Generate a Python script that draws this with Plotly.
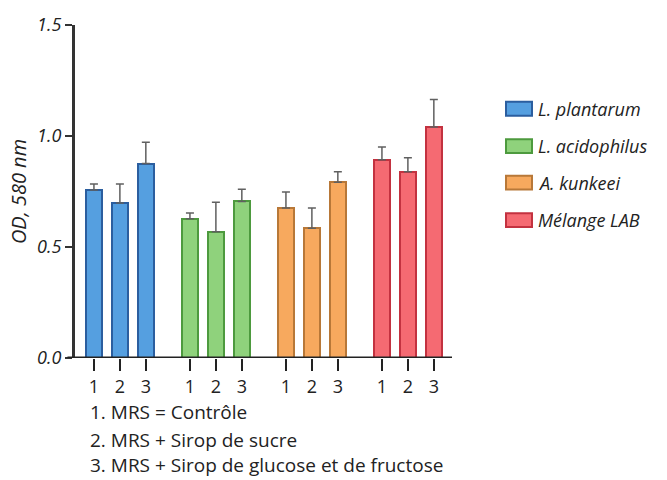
import plotly.graph_objects as go

series = ["L. plantarum", "L. acidophilus", "A. kunkeei", "Mélange LAB"]
conditions = ["1", "2", "3"]
values = {
    "L. plantarum": [0.757, 0.698, 0.876],
    "L. acidophilus": [0.627, 0.569, 0.705],
    "A. kunkeei": [0.676, 0.584, 0.792],
    "Mélange LAB": [0.893, 0.839, 1.041],
}
errors = {
    "L. plantarum": [0.027, 0.086, 0.096],
    "L. acidophilus": [0.026, 0.133, 0.055],
    "A. kunkeei": [0.072, 0.092, 0.047],
    "Mélange LAB": [0.057, 0.063, 0.123],
}
fills = ["#559fe0", "#8fd27c", "#f7a95e", "#f56a72"]
borders = ["#2b5e9f", "#4d9a3e", "#b87838", "#c33240"]
legend_lines = ["1. MRS = Contrôle", "2. MRS + Sirop de sucre",
                "3. MRS + Sirop de glucose et de fructose"]
y_ticks = [0.0, 0.5, 1.0, 1.5]
y_ticklabels = ["0.0", "0.5", "1.0", "1.5"]

GROUP_STEP = 3.7
FONT = "Open Sans"
TXT = "#222222"

fig = go.Figure()
tickvals, ticktext = [], []
for g, name in enumerate(series):
    xs = [g * GROUP_STEP + i for i in range(len(conditions))]
    tickvals += xs
    ticktext += conditions
    fig.add_trace(go.Bar(
        x=xs, y=values[name], name=name, width=0.62, showlegend=False,
        marker=dict(color=fills[g], line=dict(color=borders[g], width=2)),
        error_y=dict(type="data", array=errors[name], arrayminus=[0] * 3,
                     symmetric=False, color="#606060", thickness=1.5, width=4),
    ))

fig.update_layout(
    width=667, height=480,
    margin=dict(l=75, r=215, t=20, b=122),
    plot_bgcolor="white", paper_bgcolor="white",
    font=dict(family=FONT, size=17, color=TXT),
    bargap=0,
    showlegend=False,
    xaxis=dict(range=[-0.73, 3 * GROUP_STEP + 2.7], tickvals=tickvals,
               ticktext=ticktext, ticks="outside", ticklen=12, tickwidth=2,
               tickcolor=TXT, showgrid=False, zeroline=False,
               showline=False, tickfont=dict(size=18, color=TXT), fixedrange=True),
    yaxis=dict(range=[0, 1.5], tickvals=y_ticks, ticktext=y_ticklabels,
               ticks="outside", ticklen=7, tickwidth=2, tickcolor="#333333",
               showgrid=False, zeroline=False, showline=True,
               linecolor="#333333", linewidth=3,
               tickfont=dict(size=18, style="italic", color=TXT),
               title=dict(text="OD, 580 nm", font=dict(size=20, style="italic"),
                          standoff=6)),
)
# baseline of the x axis, slightly extending left of the y axis
fig.add_shape(type="line", xref="paper", yref="y", x0=-0.02, x1=1, y0=0, y1=0,
              line=dict(color=TXT, width=3))

# manual legend (swatch + italic label)
PLOT_L, PLOT_W, PLOT_T, PLOT_H = 75, 377, 20, 338
def px(xp):
    return (xp - PLOT_L) / PLOT_W
def py(yp):
    return (PLOT_T + PLOT_H - yp) / PLOT_H

legend_y = [105, 143, 180, 218]
for g, name in enumerate(series):
    yc = legend_y[g]
    fig.add_shape(type="rect", xref="paper", yref="paper",
                  x0=px(506), x1=px(532), y0=py(yc + 7), y1=py(yc - 7),
                  fillcolor=fills[g], line=dict(color=borders[g], width=2))
    fig.add_annotation(text="<i>" + name + "</i>", xref="paper", yref="paper",
                       x=px(536), y=py(yc), xanchor="left", yanchor="middle",
                       showarrow=False, font=dict(family=FONT, size=18, color=TXT))

note_y = [413, 441, 467]
for k, txt in enumerate(legend_lines):
    fig.add_annotation(text=txt, xref="paper", yref="paper",
                       x=px(88), y=py(note_y[k]), xanchor="left", yanchor="middle",
                       showarrow=False, font=dict(family=FONT, size=19, color=TXT))

fig.write_html("out.html")
